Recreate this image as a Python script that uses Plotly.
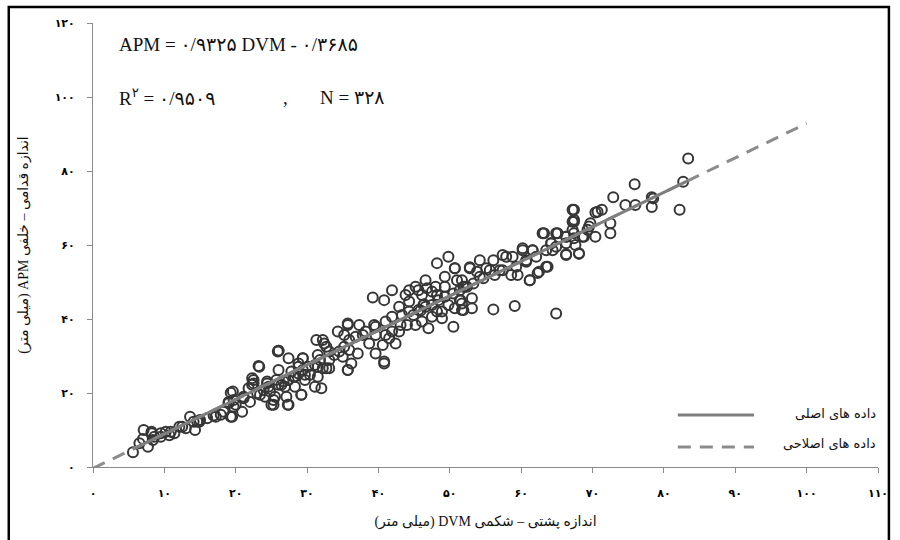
import plotly.graph_objects as go

# Regression of APM on DVM (mm)
slope = 0.9325
intercept = -0.3685
r2_text = "0/9509"
n_text = "328"

# Measured specimens: dorsoventral (DVM) vs anteroposterior (APM) size, mm
dvm = [
    5.6, 7.0, 7.1, 7.7, 8.2, 8.6, 9.5, 10.2, 10.7, 11.4, 12.1, 13.0, 13.6, 14.3, 14.9,
    16.9, 17.9, 19.6, 19.5, 19.0, 20.0, 20.9, 21.1, 22.0, 22.3, 22.5, 23.2, 23.4, 24.1, 24.4,
    25.0, 25.3, 25.9, 26.0, 26.0, 26.7, 27.4, 27.3, 27.8, 28.3, 28.8, 29.2, 29.4, 29.7, 31.1,
    31.3, 31.5, 32.0, 32.4, 32.7,
    8.2, 14.1, 15.0, 17.2, 19.3, 19.0, 19.3,
    22.3, 22.5, 24.4, 24.8, 25.5, 25.3, 26.0, 26.9, 27.1, 27.4, 28.3, 28.8, 29.4, 29.2, 29.7,
    30.1, 31.5, 31.5, 32.2, 32.7, 33.1, 33.1, 34.3, 35.0, 35.2, 35.7, 35.7,
    19.7, 21.1, 21.8, 23.0, 23.9, 24.6, 25.7, 26.4, 27.4, 28.1, 28.8, 29.4, 30.4, 31.1, 31.8,
    32.2, 33.1, 33.8, 34.5, 35.2, 35.9, 36.2,
    35.7, 37.3, 39.2, 40.8, 41.9, 39.4, 37.8, 38.7, 39.6, 40.8, 37.1, 40.6, 41.5, 41.9, 42.4,
    43.1, 42.9, 43.8, 44.3, 44.9, 45.2, 45.6, 46.6, 46.3, 47.0, 47.5, 48.2, 48.2, 48.9, 48.2,
    49.3, 49.8, 50.7, 51.0, 51.5, 50.5, 49.8, 51.9, 49.3,
    35.9, 36.8, 38.2, 39.6, 41.0, 41.9, 43.3, 44.3, 45.6, 46.6, 47.5, 48.4, 49.3, 50.5, 51.4,
    52.1, 39.6, 41.0, 42.9, 44.0, 46.1, 47.5, 48.9, 50.7, 51.7, 44.3, 45.2, 46.8, 48.0, 46.1,
    52.8, 54.2, 56.1, 57.4, 57.9, 58.8, 60.2, 61.6, 55.6, 57.0, 58.6, 59.5, 60.7, 61.2, 62.3,
    63.5, 63.2, 64.9, 64.2, 64.4, 66.3, 66.3, 67.2, 67.2, 67.2, 67.6, 56.1, 59.1, 64.9, 51.7,
    51.4, 53.1, 53.1, 51.7, 52.4, 54.2,
    51.9, 53.3, 54.7, 56.3, 57.4, 59.3, 60.7, 62.1, 63.5, 64.9, 66.3, 67.4, 55.1, 53.8,
    83.4, 82.7, 82.2, 75.9, 72.9, 78.3, 78.3, 74.6, 76.0, 70.7, 71.3, 72.5, 72.5, 70.4, 69.7,
    68.1, 67.4, 67.4, 67.4, 68.6, 69.3,
    63.7, 66.3, 68.1, 70.4, 65.1, 64.2, 66.3, 67.4, 68.8, 69.5, 78.5,
    63.0, 60.2, 61.6, 61.2, 62.5, 52.8, 50.7, 40.8, 35.7, 26.0, 23.3, 46.4, 45.9,
    6.5, 8.4, 9.5, 10.9, 12.5, 14.6, 16.0, 18.3, 19.7,
]
apm = [
    4.0, 7.6, 10.0, 5.5, 9.1, 8.2, 9.1, 9.5, 8.6, 9.1, 10.9, 10.5, 13.6, 10.0, 12.2,
    13.9, 14.1, 20.4, 13.6, 17.6, 16.8, 14.9, 18.6, 17.6, 22.2, 23.5, 27.3, 19.5, 19.0, 22.6,
    16.8, 18.1, 31.2, 26.2, 22.2, 23.1, 29.4, 16.8, 25.8, 21.7, 28.0, 19.5, 29.4, 24.9, 21.7,
    34.3, 27.1, 21.3, 33.4, 26.7,
    9.5, 12.2, 12.7, 13.6, 20.1, 17.2, 13.6,
    24.0, 22.6, 23.1, 20.4, 19.0, 16.8, 31.4, 21.7, 19.0, 16.8, 24.4, 27.1, 29.4, 19.5, 23.5,
    27.1, 30.3, 24.4, 34.3, 32.5, 26.7, 31.2, 36.6, 29.8, 35.7, 38.8, 26.2,
    18.1, 19.0, 21.3, 19.9, 20.8, 21.7, 23.5, 22.2, 23.5, 24.4, 25.3, 26.2, 24.9, 27.6, 28.9,
    26.7, 28.9, 30.3, 31.2, 32.5, 31.6, 28.0,
    38.4, 38.4, 45.8, 45.1, 47.8, 38.4, 35.7, 33.4, 30.7, 28.5, 30.7, 33.0, 34.8, 36.6, 33.4,
    38.4, 43.3, 46.5, 44.7, 41.1, 38.4, 47.8, 50.5, 43.8, 37.5, 47.4, 46.5, 42.0, 40.2, 55.1,
    51.4, 56.8, 53.7, 50.5, 45.1, 37.9, 43.8, 42.4, 48.7,
    34.3, 35.2, 36.6, 37.9, 39.3, 40.6, 41.1, 42.0, 42.4, 43.3, 43.8, 45.1, 46.0, 46.9, 47.8,
    48.7, 35.7, 35.7, 36.6, 38.4, 39.3, 40.6, 42.0, 42.9, 44.2, 47.8, 48.7, 48.3, 48.7, 46.5,
    54.0, 55.9, 55.9, 57.3, 56.8, 56.8, 58.6, 58.6, 53.2, 53.2, 51.9, 51.9, 55.5, 50.5, 52.4,
    54.1, 63.2, 63.2, 60.5, 58.6, 57.3, 62.2, 69.5, 66.3, 64.1, 60.0, 42.6, 43.5, 41.5, 50.5,
    45.1, 45.6, 42.9, 42.4, 48.7, 51.4,
    48.7, 49.6, 51.0, 51.9, 53.2, 54.1, 55.9, 56.8, 58.6, 59.5, 60.5, 61.8, 53.7, 52.8,
    83.4, 77.1, 69.5, 76.4, 72.9, 72.9, 70.3, 70.8, 70.8, 69.0, 69.5, 65.9, 63.2, 62.2, 65.9,
    57.8, 69.5, 66.3, 63.2, 62.2, 64.1,
    54.1, 57.5, 57.6, 68.8, 63.2, 60.5, 62.2, 66.8, 62.2, 65.0, 72.6,
    63.2, 59.1, 58.6, 50.5, 52.8, 53.7, 53.7, 28.0, 26.2, 31.4, 27.1, 44.0, 42.3,
    6.4, 7.3, 8.2, 9.5, 10.9, 12.2, 13.2, 14.9, 16.3,
]

x_ticks = list(range(0, 111, 10))
y_ticks = list(range(0, 121, 20))

legend_names = ["داده های اصلی", "داده های اصلاحی"]
x_title = "اندازه پشتی – شکمی DVM (میلی متر)"
y_title = "اندازه قدامی – خلفی APM (میلی متر)"

FA = str.maketrans("0123456789", "۰۱۲۳۴۵۶۷۸۹")


def fa(s):
    return str(s).translate(FA)


def rtl(s):
    return "\u202B" + s + "\u202C"


serif = "Liberation Serif, DejaVu Sans, serif"
persian = "DejaVu Sans, Liberation Serif, sans-serif"

# fitted lines
fit_x = [min(dvm), max(dvm)]
fit_y = [slope * v + intercept for v in fit_x]
ext_x = [0, 100]
ext_y = [slope * v + intercept for v in ext_x]

fig = go.Figure()
fig.add_trace(go.Scatter(
    x=dvm, y=apm, mode="markers",
    marker=dict(symbol="circle-open", size=10, color="#363636",
                line=dict(width=2, color="#363636")),
    showlegend=False, hoverinfo="x+y",
))
fig.add_trace(go.Scatter(
    x=ext_x, y=ext_y, mode="lines",
    line=dict(color="#8c8c8c", width=3, dash="13px,9px"),
    showlegend=False,
))
fig.add_trace(go.Scatter(
    x=fit_x, y=fit_y, mode="lines",
    line=dict(color="#7f7f7f", width=3),
    showlegend=False,
))

axis_common = dict(
    showline=True, linecolor="#8a8a8a", linewidth=1,
    ticks="outside", ticklen=5, tickcolor="#8a8a8a",
    showgrid=False, zeroline=False,
    tickfont=dict(family=persian, size=11, color="#000", weight="bold"),
)

fig.update_xaxes(
    range=[0, 110], tickvals=x_ticks, ticktext=[fa(v) for v in x_ticks],
    title=dict(text=rtl(x_title), font=dict(family=serif, size=14, color="#111"), standoff=16),
    ticklabelstandoff=11,
    **axis_common,
)
fig.update_yaxes(
    range=[0, 120], tickvals=y_ticks, ticktext=[fa(v) for v in y_ticks],
    title=dict(text=rtl(y_title), font=dict(family=serif, size=14, color="#111"), standoff=22),
    ticklabelstandoff=10,
    **axis_common,
)

equation = f"APM = {fa('0/9325')} DVM - {fa('0/3685')}"
eq_font = dict(family=serif, size=19, color="#111")
annotations = [
    dict(x=0.031, y=0.9505, text=equation, xanchor="left", font=eq_font),
    dict(x=0.031, y=0.8333, text=f"R<sup>{fa(2)}</sup> = {fa(r2_text)}", xanchor="left",
         font=eq_font),
    dict(x=0.245, y=0.8333, text=",", xanchor="center", font=eq_font),
    dict(x=0.2866, y=0.8333, text=f"N = {fa(n_text)}", xanchor="left", font=eq_font),
    dict(x=1.0, y=0.1216, text=rtl(legend_names[0]), xanchor="right",
         font=dict(family=persian, size=13, color="#111")),
    dict(x=1.0, y=0.054, text=rtl(legend_names[1]), xanchor="right",
         font=dict(family=persian, size=13, color="#111")),
]
for a in annotations:
    a.update(xref="paper", yref="paper", showarrow=False, yanchor="middle")

shapes = [
    # legend keys
    dict(type="line", xref="paper", yref="paper", x0=0.745, x1=0.842, y0=0.1171, y1=0.1171,
         line=dict(color="#7f7f7f", width=3)),
    dict(type="line", xref="paper", yref="paper", x0=0.745, x1=0.842, y0=0.045, y1=0.045,
         line=dict(color="#8c8c8c", width=3, dash="13px,9px")),
    # chart frame
    dict(type="rect", xref="paper", yref="paper", x0=-0.1073, x1=1.0139, y0=-0.18, y1=1.036,
         line=dict(color="#000", width=2.5)),
]

fig.update_layout(
    width=900, height=540,
    margin=dict(l=93, r=15, t=23, b=73),
    plot_bgcolor="white", paper_bgcolor="white",
    annotations=annotations, shapes=shapes,
    showlegend=False,
)

fig.write_html("out.html")
